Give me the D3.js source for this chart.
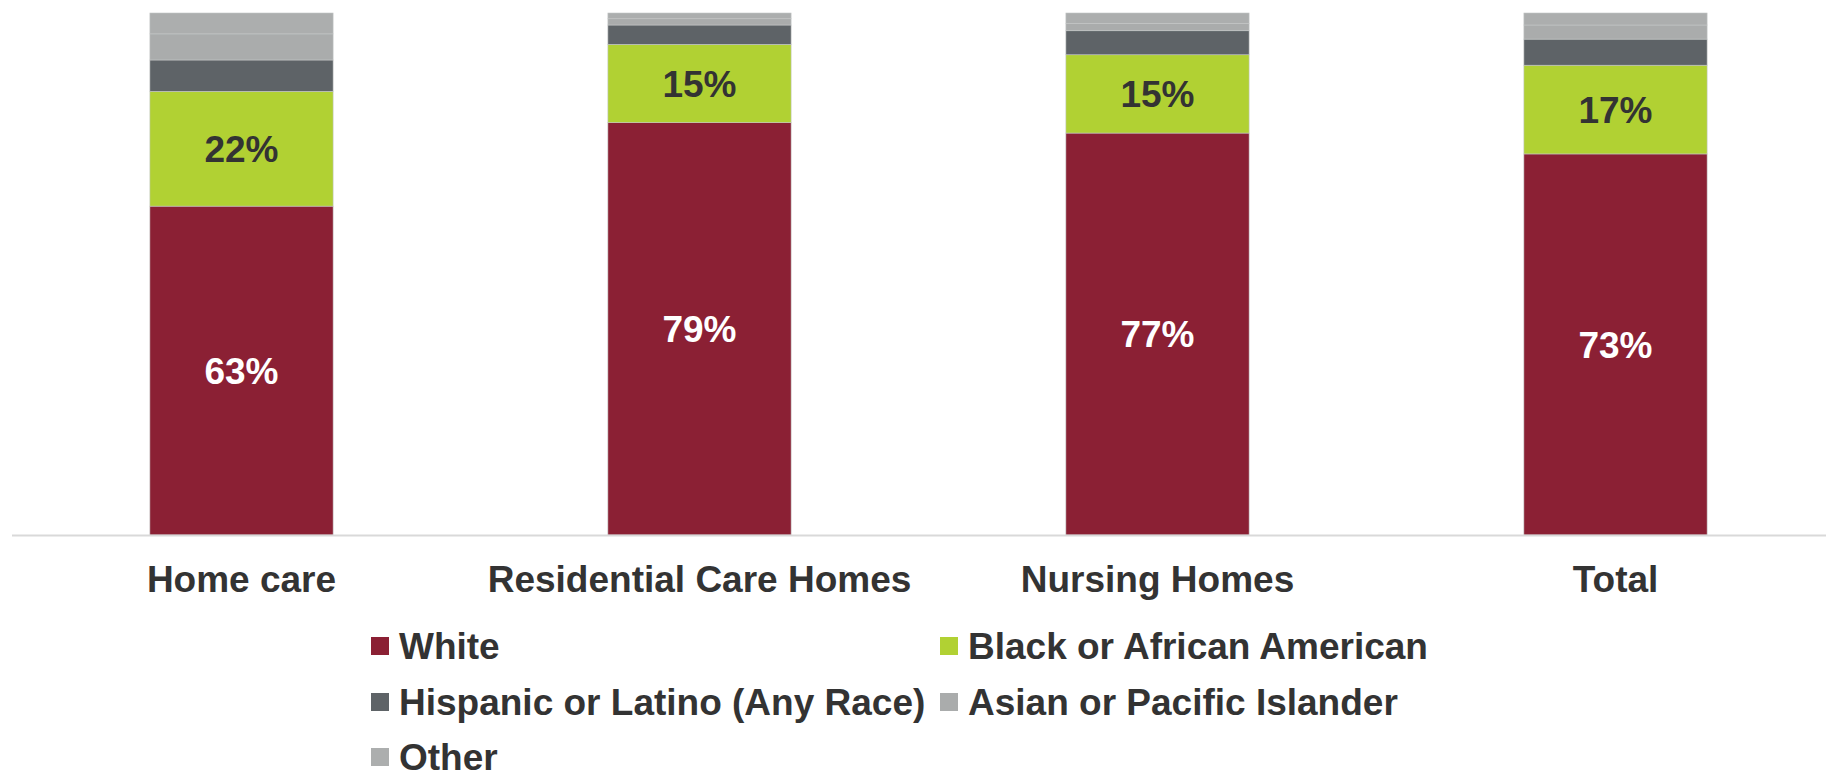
<!DOCTYPE html>
<html>
<head>
<meta charset="utf-8">
<script src="https://cdn.jsdelivr.net/npm/d3@7"></script>
<style>
  html, body { margin: 0; padding: 0; background: #fff; }
  svg { display: block; font-family: "Liberation Sans", Arial, sans-serif; }
</style>
</head>
<body>
<svg id="chart" width="1826" height="775"></svg>
<script>
// Settings of care
const categories = ["Home care", "Residential Care Homes", "Nursing Homes", "Total"];

// Share of residents by race / ethnicity (%), one array per series
const white    = [63, 79, 77, 73];
const black    = [22, 15, 15, 17];
const hispanic = [6, 3.7, 4.6, 5];
const asian    = [5, 1.2, 1.4, 2.7];
const other    = [4, 1.1, 2.0, 2.3];

const seriesNames = ["White", "Black or African American", "Hispanic or Latino (Any Race)", "Asian or Pacific Islander", "Other"];
const seriesValues = [white, black, hispanic, asian, other];
const seriesColors = ["#8B2034", "#B1D133", "#5E6367", "#AAACAC", "#ACAEAE"];
const labelColors = ["#ffffff", "#333333", null, null, null];

const FONT = 37;

const svg = d3.select("#chart");

const x = d3.scaleBand()
  .domain(categories)
  .range([12.5, 1844.5])
  .paddingInner(0.6)
  .paddingOuter(0.3);

const y = d3.scaleLinear()
  .domain([0, 100])
  .range([535, 13]);

const rows = categories.map((c, i) => {
  const r = { category: c };
  seriesNames.forEach((s, k) => r[s] = seriesValues[k][i]);
  return r;
});

const stacked = d3.stack().keys(seriesNames)(rows);

// Bars
const layers = svg.append("g").selectAll("g")
  .data(stacked)
  .join("g")
  .attr("fill", (d, i) => seriesColors[i]);

layers.selectAll("rect")
  .data(d => d)
  .join("rect")
  .attr("x", d => x(d.data.category))
  .attr("width", x.bandwidth())
  .attr("y", d => y(d[1]))
  .attr("height", d => y(d[0]) - y(d[1]))
  .attr("stroke", "#c4c6c6")
  .attr("stroke-width", 0.6);

// Baseline
svg.append("line")
  .attr("x1", 12).attr("x2", 1826)
  .attr("y1", y(0) + 0.5).attr("y2", y(0) + 0.5)
  .attr("stroke", "#d9d9d9")
  .attr("stroke-width", 2);

// Value labels for White and Black segments
stacked.forEach((layer, i) => {
  if (!labelColors[i]) return;
  svg.append("g").selectAll("text")
    .data(layer)
    .join("text")
    .attr("x", d => x(d.data.category) + x.bandwidth() / 2)
    .attr("y", d => (y(d[0]) + y(d[1])) / 2)
    .attr("dy", "0.36em")
    .attr("text-anchor", "middle")
    .attr("font-size", FONT)
    .attr("font-weight", "bold")
    .attr("fill", labelColors[i])
    .text(d => Math.round(d[1] - d[0]) + "%");
});

// Category axis labels
const xAxis = d3.axisBottom(x).tickSize(0).tickPadding(0);
const axisG = svg.append("g")
  .attr("transform", `translate(0, ${y(0)})`)
  .call(xAxis);
axisG.select(".domain").remove();
axisG.selectAll("text")
  .attr("y", 44)
  .attr("dy", "0.36em")
  .attr("font-size", FONT)
  .attr("font-weight", "bold")
  .attr("font-family", "Liberation Sans, Arial, sans-serif")
  .attr("fill", "#333333");

// Legend
const legendPos = [
  [371, 646], [940, 646],
  [371, 702], [940, 702],
  [371, 757]
];
const legend = svg.append("g").selectAll("g")
  .data(seriesNames)
  .join("g")
  .attr("transform", (d, i) => `translate(${legendPos[i][0]}, ${legendPos[i][1]})`);
legend.append("rect")
  .attr("x", 0).attr("y", -9)
  .attr("width", 18).attr("height", 18)
  .attr("fill", (d, i) => seriesColors[i]);
legend.append("text")
  .attr("x", 28)
  .attr("dy", "0.36em")
  .attr("font-size", FONT)
  .attr("font-weight", "bold")
  .attr("fill", "#333333")
  .text(d => d);
</script>
</body>
</html>
